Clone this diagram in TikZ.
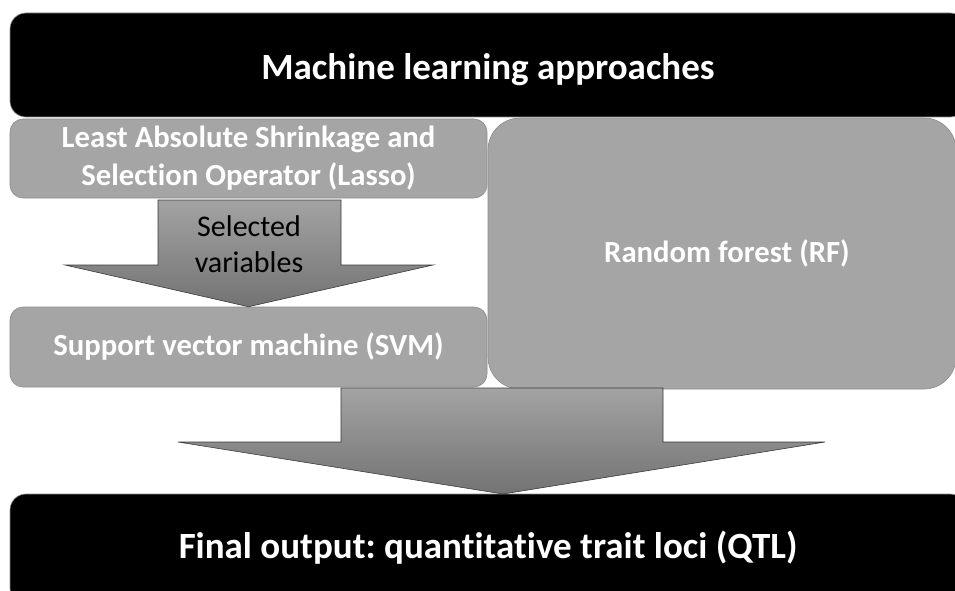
\documentclass[tikz,border=0pt]{standalone}
\usepackage{fontspec}
\setmainfont{Carlito}[Ligatures=NoCommon]
\frenchspacing
\definecolor{boxgray}{HTML}{A5A5A5}
\definecolor{boxline}{HTML}{8C8C8C}
\definecolor{arrtop}{HTML}{A3A3A3}
\definecolor{arrbot}{HTML}{737373}
\definecolor{arrline}{HTML}{3A3A3A}
\begin{document}
\begin{tikzpicture}[x=1pt,y=-1pt,
  banner/.style={draw=boxline, line width=0.6pt, fill=black, rounded corners=16pt, inner sep=0pt},
  bannertext/.style={text=white, font=\bfseries\fontsize{37}{44}\selectfont, inner sep=0pt, anchor=base},
  graybox/.style={draw=boxline, line width=0.6pt, fill=boxgray, rounded corners=13pt, text=white,
    font=\bfseries\fontsize{30.7}{38}\selectfont, align=center, inner sep=0pt},
  bigbox/.style={graybox, rounded corners=32pt},
  arrowshape/.style={top color=arrtop, bottom color=arrbot, draw=arrline, line width=0.6pt},
  arrowtext/.style={font=\fontsize{30}{36}\selectfont, align=center, text=black}]
\useasboundingbox (0,0) rectangle (955,591);
\clip (0,0) rectangle (955,591);
% banners
\node[banner, minimum width=956pt, minimum height=104pt] (top) at (488,65) {};
\node[bannertext] (toptext) at (488,80) {Machine learning approaches};
\node[banner, minimum width=956pt, minimum height=110pt] (bottom) at (488,549) {};
\node[bannertext] (bottomtext) at (488,558) {Final output: quantitative trait loci (QTL)};
% gray boxes
\node[graybox, minimum width=477pt, minimum height=79pt] (lasso) at (248.5,158.5) {Least Absolute Shrinkage and\\Selection Operator (Lasso)};
\node[graybox, minimum width=477pt, minimum height=80pt] (svm) at (248.5,347) {Support vector machine (SVM)};
\node[bigbox, minimum width=468pt, minimum height=271pt] (rf) at (722,253.5) {\hspace*{10pt}Random forest (RF)};
% arrow from Lasso to SVM
\shade[arrowshape] (158,200) -- (341,200) -- (341,265) -- (433,265) -- (svm.north) -- (65,265) -- (158,265) -- cycle;
\node[arrowtext] (sel) at (249,244) {Selected\\variables};
% arrow to final output
\shade[arrowshape] (341,388) -- (663,388) -- (663,442) -- (825,442) -- (503,494) -- (178,442) -- (341,442) -- cycle;
\end{tikzpicture}
\end{document}
